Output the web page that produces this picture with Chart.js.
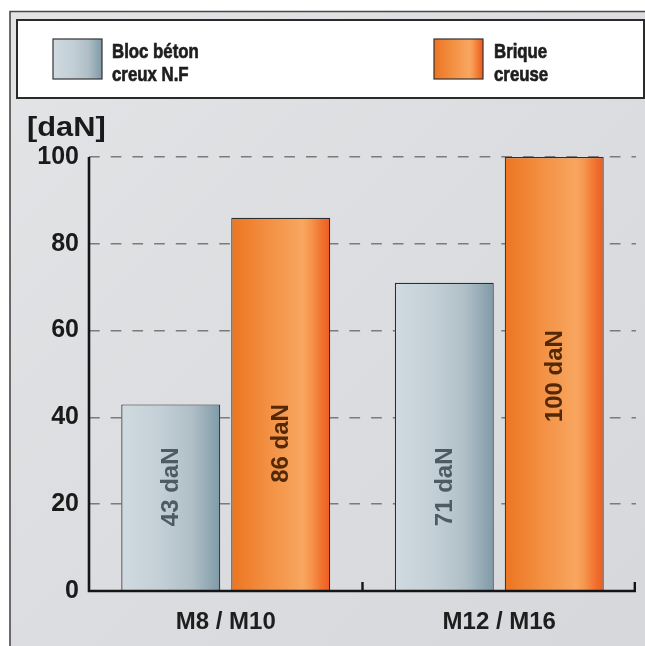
<!DOCTYPE html>
<html>
<head>
<meta charset="utf-8">
<script src="https://cdn.jsdelivr.net/npm/chart.js@4"></script>
<style>
  html, body { margin: 0; padding: 0; background: #fff; }
  #c { display: block; }
</style>
</head>
<body>
<canvas id="c" width="645" height="646"></canvas>
<script>
// ---- data ----
const categories = ['M8 / M10', 'M12 / M16'];
const seriesNames = [['Bloc béton', 'creux N.F'], ['Brique', 'creuse']];
const blocBeton = [43, 71];
const brique = [86, 100];
const yTicks = [0, 20, 40, 60, 80, 100];
const unitLabel = '[daN]';
const unitSuffix = ' daN';
// where (in axis units) the rotated value labels are centred
const labelCentres = [[24, 24], [34, 49.5]];

const FONT = "'Liberation Sans', Arial, Helvetica, sans-serif";

function greyGrad(ctx, x0, x1) {
  const g = ctx.createLinearGradient(x0, 0, x1, 0);
  g.addColorStop(0, '#d0dae0');
  g.addColorStop(0.4, '#c3cfd6');
  g.addColorStop(0.72, '#afbec6');
  g.addColorStop(0.88, '#93aab5');
  g.addColorStop(1, '#7f9aa8');
  return g;
}
function orangeGrad(ctx, x0, x1) {
  const g = ctx.createLinearGradient(x0, 0, x1, 0);
  g.addColorStop(0, '#ec7521');
  g.addColorStop(0.4, '#f39245');
  g.addColorStop(0.72, '#f8a660');
  g.addColorStop(0.8, '#f6974f');
  g.addColorStop(0.92, '#f1702d');
  g.addColorStop(1, '#ee5b20');
  return g;
}
const grads = [greyGrad, orangeGrad];
const labelColours = ['#4f5a62', '#532805'];

const framePlugin = {
  id: 'frame',
  beforeDraw(chart) {
    const ctx = chart.ctx;
    const W = chart.width, H = chart.height;
    ctx.save();
    ctx.fillStyle = '#ffffff';
    ctx.fillRect(0, 0, W, H);
    const bg = ctx.createLinearGradient(10, 12, W, H);
    bg.addColorStop(0, '#e3e4e6');
    bg.addColorStop(0.5, '#dcdde0');
    bg.addColorStop(1, '#d7d8db');
    ctx.fillStyle = bg;
    ctx.fillRect(10, 12, W - 10, H - 12);
    ctx.strokeStyle = '#4a4a4a';
    ctx.lineWidth = 1.6;
    ctx.beginPath();
    ctx.moveTo(10, H);
    ctx.lineTo(10, 11.5);
    ctx.lineTo(W, 11.5);
    ctx.stroke();

    // legend box
    ctx.fillStyle = '#ffffff';
    ctx.fillRect(17, 20, 627, 78);
    ctx.strokeStyle = '#2a2a2a';
    ctx.lineWidth = 2;
    ctx.strokeRect(17, 20, 627, 78);

    const sw = [53, 434];
    const tx = [112, 494];
    chart.data.datasets.forEach((ds, i) => {
      ctx.fillStyle = grads[i](ctx, sw[i], sw[i] + 49);
      ctx.fillRect(sw[i], 39, 49, 40);
      ctx.strokeStyle = '#333';
      ctx.lineWidth = 1.2;
      ctx.strokeRect(sw[i], 39, 49, 40);
      ctx.fillStyle = '#1e1e1e';
      ctx.strokeStyle = '#1e1e1e';
      ctx.lineWidth = 0.7;
      ctx.font = 'bold 21px ' + FONT;
      ctx.textAlign = 'left';
      ctx.textBaseline = 'alphabetic';
      seriesNames[i].forEach((line, j) => {
        ctx.save();
        ctx.translate(tx[i], 57.5 + j * 23);
        ctx.scale(0.8, 1);
        ctx.fillText(line, 0, 0);
        ctx.strokeText(line, 0, 0);
        ctx.restore();
      });
    });

    // unit title
    ctx.fillStyle = '#1a1a1a';
    ctx.font = 'bold 28px ' + FONT;
    ctx.save();
    ctx.translate(27, 136);
    ctx.scale(1.1, 1);
    ctx.fillText(unitLabel, 0, 0);
    ctx.restore();
    ctx.restore();
  },
  beforeDatasetsDraw(chart) {
    const ctx = chart.ctx;
    chart.data.datasets.forEach((ds, i) => {
      const meta = chart.getDatasetMeta(i);
      meta.data.forEach(el => {
        const x0 = el.x - el.width / 2, x1 = el.x + el.width / 2;
        el.options = Object.assign({}, el.options, { backgroundColor: grads[i](ctx, x0, x1) });
      });
    });
  },
  afterDatasetsDraw(chart) {
    const ctx = chart.ctx;
    const y = chart.scales.y;
    const area = chart.chartArea;
    ctx.save();
    // value labels
    chart.data.datasets.forEach((ds, i) => {
      const meta = chart.getDatasetMeta(i);
      meta.data.forEach((el, j) => {
        ctx.save();
        ctx.translate(el.x, y.getPixelForValue(labelCentres[i][j]));
        ctx.rotate(-Math.PI / 2);
        ctx.fillStyle = labelColours[i];
        ctx.font = 'bold 24px ' + FONT;
        ctx.textAlign = 'center';
        ctx.textBaseline = 'middle';
        ctx.fillText(ds.data[j] + unitSuffix, 0, 1);
        ctx.restore();
      });
    });
    // axis lines
    ctx.strokeStyle = '#151515';
    ctx.lineWidth = 2.6;
    ctx.beginPath();
    ctx.moveTo(area.left, area.top);
    ctx.lineTo(area.left, area.bottom);
    ctx.lineTo(area.right, area.bottom);
    ctx.stroke();
    // category boundary ticks
    const n = categories.length;
    const step = (area.right - area.left) / n;
    ctx.lineWidth = 2.4;
    for (let k = 1; k <= n; k++) {
      const bx = area.left + step * k - (k === n ? 1.2 : 0);
      ctx.beginPath();
      ctx.moveTo(bx, area.bottom);
      ctx.lineTo(bx, area.bottom - 9);
      ctx.stroke();
    }
    ctx.restore();
  }
};

new Chart(document.getElementById('c'), {
  type: 'bar',
  data: {
    labels: categories,
    datasets: [
      { label: seriesNames[0].join(' '), data: blocBeton, borderColor: '#2e2e2e', borderWidth: 1.2, backgroundColor: '#c3cfd6' },
      { label: seriesNames[1].join(' '), data: brique, borderColor: '#2e2e2e', borderWidth: 1.2, backgroundColor: '#f39245' }
    ]
  },
  options: {
    responsive: false,
    animation: false,
    devicePixelRatio: 1,
    layout: { padding: { top: 157, right: 9, left: 0, bottom: 0 } },
    datasets: { bar: { categoryPercentage: 0.804, barPercentage: 0.9 } },
    plugins: { legend: { display: false }, tooltip: { enabled: false } },
    scales: {
      x: {
        grid: { display: false, drawTicks: false },
        border: { display: false },
        ticks: { color: '#1e1e1e', font: { family: FONT, size: 24, weight: 'bold' }, padding: 17 },
        afterFit(s) { s.height = 55; }
      },
      y: {
        min: 0, max: 100,
        afterBuildTicks(s) { s.ticks = yTicks.map(v => ({ value: v })); },
        grid: { color: '#7b7b7b', lineWidth: 1.5, drawTicks: false },
        border: { display: false, dash: [10.7, 11] },
        ticks: { color: '#1a1a1a', font: { family: FONT, size: 25, weight: 'bold' }, padding: 10 },
        afterFit(s) { s.width = 89; }
      }
    }
  },
  plugins: [framePlugin]
});
</script>
</body>
</html>
